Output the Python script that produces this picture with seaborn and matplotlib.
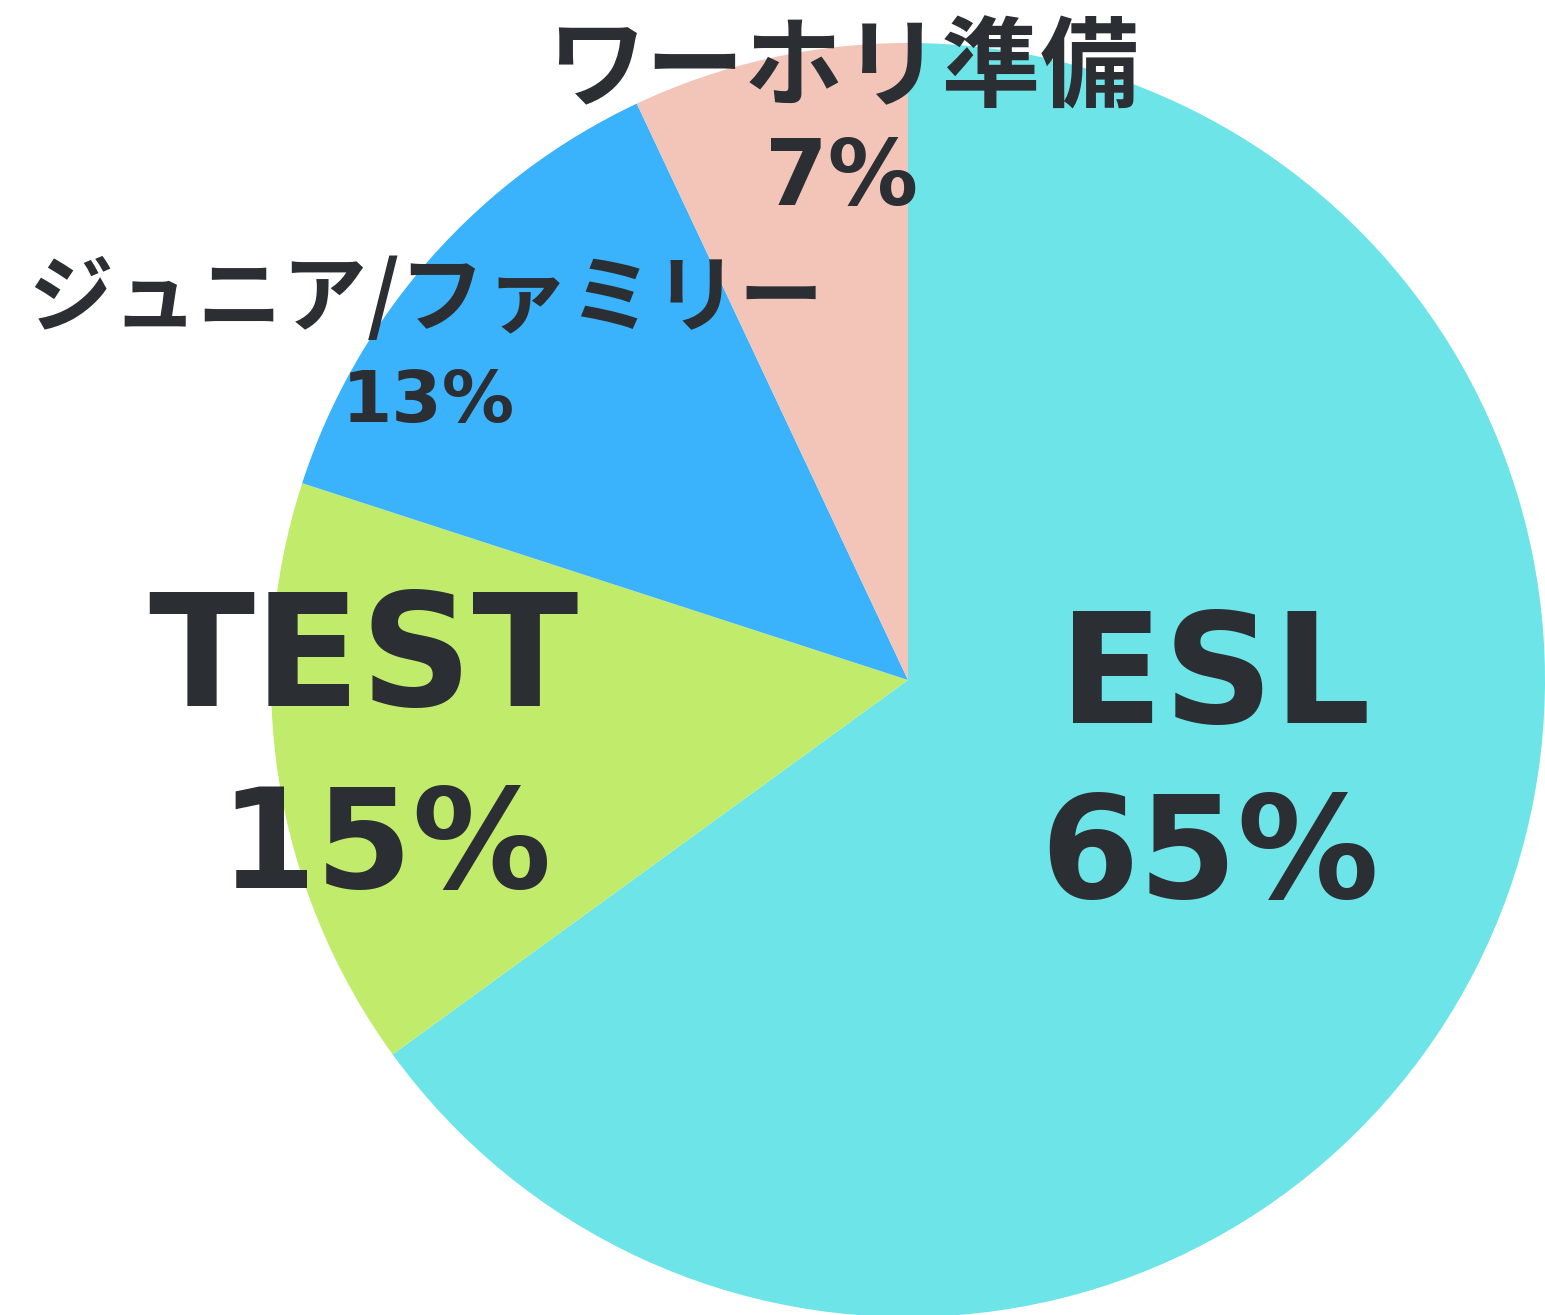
import matplotlib
matplotlib.use("Agg")
import matplotlib.pyplot as plt
import seaborn as sns

# Course share data
courses = ['ESL', 'TEST', 'ジュニア/ファミリー', 'ワーホリ準備']
shares = [65, 15, 13, 7]
pct_labels = ['65%', '15%', '13%', '7%']
colors = ['#6CE4E8', '#C1EC6B', '#3AB2FC', '#F3C4B8']

sns.set_theme(style='white')
plt.rcParams['font.family'] = ['Noto Sans CJK JP', 'DejaVu Sans']

W, H = 1545, 1315
fig = plt.figure(figsize=(W / 100, H / 100), dpi=100)
ax = fig.add_axes([0, 0, 1, 1])

# pie in pixel units: centre and radius
ax.pie(shares, colors=sns.color_palette(colors), startangle=90, counterclock=False,
       center=(908, H - 680), radius=637, wedgeprops=dict(linewidth=0))
ax.set_xlim(0, W)
ax.set_ylim(0, H)
ax.set_aspect('equal')
ax.axis('off')

txt = '#2B2E33'
latin = ['DejaVu Sans']

# big labels
ax.text(1215, H - 680, courses[0], family=latin, fontsize=110, fontweight='bold',
        color=txt, ha='center', va='center')
ax.text(1210, H - 858, pct_labels[0], family=latin, fontsize=102, fontweight='bold',
        color=txt, ha='center', va='center')
ax.text(363, H - 663, courses[1], family=latin, fontsize=112, fontweight='bold',
        color=txt, ha='center', va='center')
ax.text(386, H - 850, pct_labels[1], family=latin, fontsize=100, fontweight='bold',
        color=txt, ha='center', va='center')

# small labels
ax.text(426, H - 300, courses[2], fontsize=61, fontweight='bold',
        color=txt, ha='center', va='center')
ax.text(428, H - 402, pct_labels[2], family=latin, fontsize=52, fontweight='bold',
        color=txt, ha='center', va='center')
ax.text(843, H - 70, courses[3], fontsize=71, fontweight='bold',
        color=txt, ha='center', va='center')
ax.text(842, H - 180, pct_labels[3], family=latin, fontsize=65, fontweight='bold',
        color=txt, ha='center', va='center')

fig.savefig('out.png', dpi=100, facecolor='white')
